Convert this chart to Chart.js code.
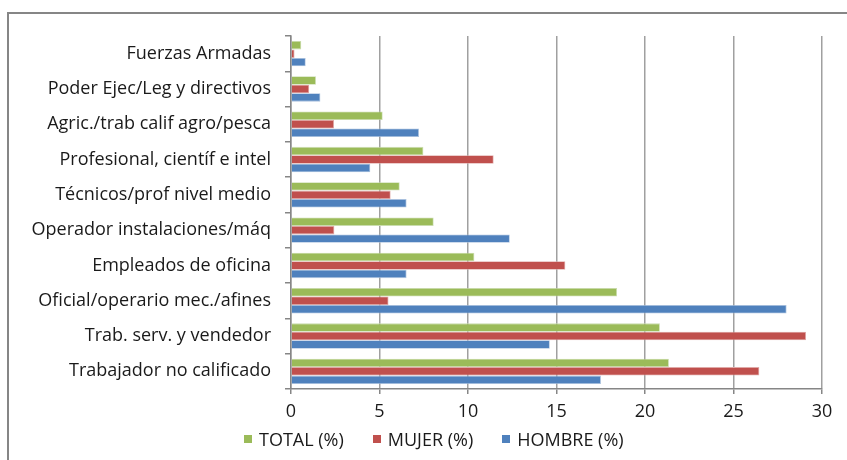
<!DOCTYPE html>
<html>
<head>
<meta charset="utf-8">
<script src="https://cdn.jsdelivr.net/npm/chart.js@4"></script>
<style>
  html, body { margin: 0; padding: 0; background: #fff; overflow: hidden; }
  #wrap { position: relative; width: 847px; height: 460px; }
  #frame { position: absolute; left: 7px; top: 12px; width: 900px; height: 500px; border: 2px solid #868686; box-sizing: border-box; }
  canvas { position: absolute; left: 0; top: 0; }
  #legend { position: absolute; left: 244px; top: 428px; display: flex; gap: 29px; align-items: center;
            font-family: 'Open Sans', sans-serif; font-size: 18px; color: #1a1a1a; line-height: 22px; }
  #legend .item { display: flex; align-items: center; gap: 7px; }
  #legend .box { width: 8px; height: 8px; display: inline-block; }
</style>
</head>
<body>
<div id="wrap">
  <div id="frame"></div>
  <canvas id="c" width="847" height="460"></canvas>
  <div id="legend"></div>
</div>
<script>
const categories = [
  "Fuerzas Armadas",
  "Poder Ejec/Leg y directivos",
  "Agric./trab calif agro/pesca",
  "Profesional, científ e intel",
  "Técnicos/prof nivel medio",
  "Operador instalaciones/máq",
  "Empleados de oficina",
  "Oficial/operario mec./afines",
  "Trab. serv. y vendedor",
  "Trabajador no calificado"
];
const totalValues  = [0.58, 1.41, 5.18, 7.48, 6.14, 8.06, 10.36, 18.42, 20.84, 21.35];
const mujerValues  = [0.2, 1.03, 2.43, 11.45, 5.63, 2.45, 15.5, 5.51, 29.1, 26.46];
const hombreValues = [0.83, 1.66, 7.23, 4.48, 6.53, 12.36, 6.53, 28.0, 14.62, 17.51];
const seriesNames = ["TOTAL (%)", "MUJER (%)", "HOMBRE (%)"];
const seriesColors = ['#9BBB59', '#C0504D', '#4F81BD'];
const seriesBorders = ['#c9dcae', '#e0a9a7', '#a8c0de'];
const xTicks = [0, 5, 10, 15, 20, 25, 30];

const FONT = "'Open Sans', sans-serif";
const TXT = '#1a1a1a';

const seriesValues = [totalValues, mujerValues, hombreValues];

const chart = new Chart(document.getElementById('c'), {
  type: 'bar',
  data: {
    labels: categories,
    datasets: seriesNames.map((n, i) => ({
      label: n, data: seriesValues[i],
      backgroundColor: seriesColors[i], borderColor: seriesBorders[i], borderWidth: 0.8
    }))
  },
  options: {
    indexAxis: 'y',
    responsive: false,
    animation: false,
    devicePixelRatio: 1,
    layout: { padding: { left: 0, right: 25, top: 36, bottom: 0 } },
    datasets: { bar: { categoryPercentage: 0.72, barPercentage: 1.0 } },
    scales: {
      x: {
        min: 0, max: 30,
        afterBuildTicks: (s) => { s.ticks = xTicks.map(v => ({ value: v })); },
        ticks: { color: TXT, font: { family: FONT, size: 18 }, padding: 7 },
        grid: { color: '#a0a0a0', lineWidth: 1.5, tickLength: 5, tickColor: '#868686' },
        border: { color: '#868686', width: 1.5 },
        afterFit: (s) => { s.height = 71; }
      },
      y: {
        ticks: { color: TXT, font: { family: FONT, size: 18 }, padding: 14 },
        grid: { drawOnChartArea: false, offset: true, tickLength: 6, color: '#868686', lineWidth: 1.5 },
        border: { color: '#868686', width: 1.5 },
        afterFit: (s) => { s.width = 291; }
      }
    },
    plugins: {
      legend: { display: false },
      tooltip: { enabled: false }
    }
  }
});

const legendEl = document.getElementById('legend');
chart.data.datasets.forEach((ds) => {
  const item = document.createElement('span');
  item.className = 'item';
  const box = document.createElement('span');
  box.className = 'box';
  box.style.background = ds.backgroundColor;
  const txt = document.createElement('span');
  txt.textContent = ds.label;
  item.appendChild(box);
  item.appendChild(txt);
  legendEl.appendChild(item);
});
</script>
</body>
</html>
